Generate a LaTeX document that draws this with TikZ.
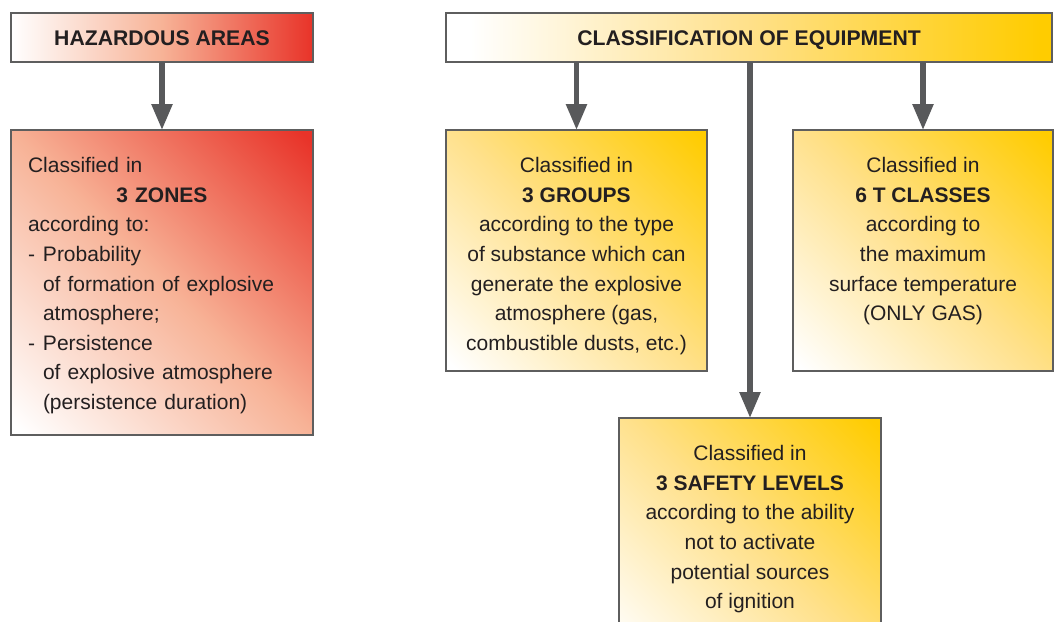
\documentclass[tikz,border=0pt]{standalone}
\usepackage{fontspec}
\setmainfont{Liberation Sans}
\usetikzlibrary{positioning,arrows.meta}

\newlength{\du}
\setlength{\du}{1pt}

\begin{document}
\begin{tikzpicture}[x=1\du,y=-1\du,
  boxline/.style={draw=boxlinecolor,line width=2.8\du,inner sep=0pt,outer sep=0pt,shade},
  redhead/.style={boxline,shading=hazheadshade},
  redbox/.style={boxline,shading=hazboxshade,shading angle=-45},
  yellowhead/.style={boxline,shading=equipheadshade},
  yellowbox/.style={boxline,shading=equipboxshade,shading angle=-45},
  headtext/.style={font=\bfseries\fontsize{21.2}{24}\selectfont,text=textcolor,text height=15.2\du,text depth=0pt},
  bodytext/.style={font=\fontsize{21}{29.6}\selectfont,text=textcolor,inner sep=0pt,outer sep=0pt},
  downarrow/.style={draw=arrowcolor,line width=5.5\du,-{Triangle[length=26pt,width=20pt]}}]
\definecolor{boxlinecolor}{rgb}{0.370000, 0.370000, 0.370000}
\definecolor{arrowcolor}{rgb}{0.345000, 0.349000, 0.357000}
\definecolor{textcolor}{rgb}{0.137000, 0.122000, 0.125000}
\definecolor{hazredcolor}{rgb}{0.910000, 0.200000, 0.160000}
\definecolor{hazmidcolor}{rgb}{0.970000, 0.700000, 0.590000}
\definecolor{equipyellowcolor}{rgb}{1.000000, 0.800000, 0.000000}
\definecolor{equipmidcolor}{rgb}{1.000000, 0.880000, 0.540000}
\pgfdeclarehorizontalshading{hazheadshade}{100bp}{color(0bp)=(white); color(25bp)=(white); color(50bp)=(hazmidcolor); color(75bp)=(hazredcolor); color(100bp)=(hazredcolor)}
\pgfdeclareverticalshading{hazboxshade}{100bp}{color(0bp)=(white); color(16bp)=(white); color(50bp)=(hazmidcolor); color(84bp)=(hazredcolor); color(100bp)=(hazredcolor)}
\pgfdeclarehorizontalshading{equipheadshade}{100bp}{color(0bp)=(white); color(27bp)=(white); color(50bp)=(equipmidcolor); color(74bp)=(equipyellowcolor); color(100bp)=(equipyellowcolor)}
\pgfdeclareverticalshading{equipboxshade}{100bp}{color(0bp)=(white); color(16bp)=(white); color(50bp)=(equipmidcolor); color(84bp)=(equipyellowcolor); color(100bp)=(equipyellowcolor)}
\useasboundingbox (0,0) rectangle (1054,621);
\clip (0,0) rectangle (1054,621);
% hazardous areas
\node[redhead,headtext,minimum width=302\du,minimum height=49\du] (hazhead) at (162,37.5) {HAZARDOUS AREAS};
\node[redbox,minimum width=302\du,minimum height=305\du] (zones) at (162,282.5) {};
\node[bodytext,text width=268\du,align=left,below right=27.5\du and 17\du of zones.north west] (zonestext) {Classified in\\
\hfill\textbf{3 ZONES}\hfill\null\\
according to:\\
\makebox[15\du][l]{-}Probability\\
\hspace*{15\du}of formation of explosive\\
\hspace*{15\du}atmosphere;\\
\makebox[15\du][l]{-}Persistence\\
\hspace*{15\du}of explosive atmosphere\\
\hspace*{15\du}(persistence duration)};
% classification of equipment
\node[yellowhead,headtext,minimum width=606\du,minimum height=49\du] (equiphead) at (749,37.5) {CLASSIFICATION OF EQUIPMENT};
\node[yellowbox,minimum width=261\du,minimum height=241\du] (groups) at (576.5,250.5) {};
\node[yellowbox,minimum width=260\du,minimum height=241\du] (tclasses) at (923,250.5) {};
\node[yellowbox,minimum width=262\du,minimum height=242\du] (safety) at (750,539) {};
\node[bodytext,align=center,below=27.5\du of groups.north] (groupstext) {Classified in\\
\textbf{3 GROUPS}\\
according to the type\\
of substance which can\\
generate the explosive\\
atmosphere (gas,\\
combustible dusts, etc.)};
\node[bodytext,align=center,below=27.5\du of tclasses.north] (tclassestext) {Classified in\\
\textbf{6 T CLASSES}\\
according to\\
the maximum\\
surface temperature\\
(ONLY GAS)};
\node[bodytext,align=center,below=27.5\du of safety.north] (safetytext) {Classified in\\
\textbf{3 SAFETY LEVELS}\\
according to the ability\\
not to activate\\
potential sources\\
of ignition};
% arrows
\draw[downarrow] (hazhead.south) -- (zones.north);
\draw[downarrow] (groups.north |- equiphead.south) -- (groups.north);
\draw[downarrow] (tclasses.north |- equiphead.south) -- (tclasses.north);
\draw[downarrow] (safety.north |- equiphead.south) -- (safety.north);
\end{tikzpicture}
\end{document}
